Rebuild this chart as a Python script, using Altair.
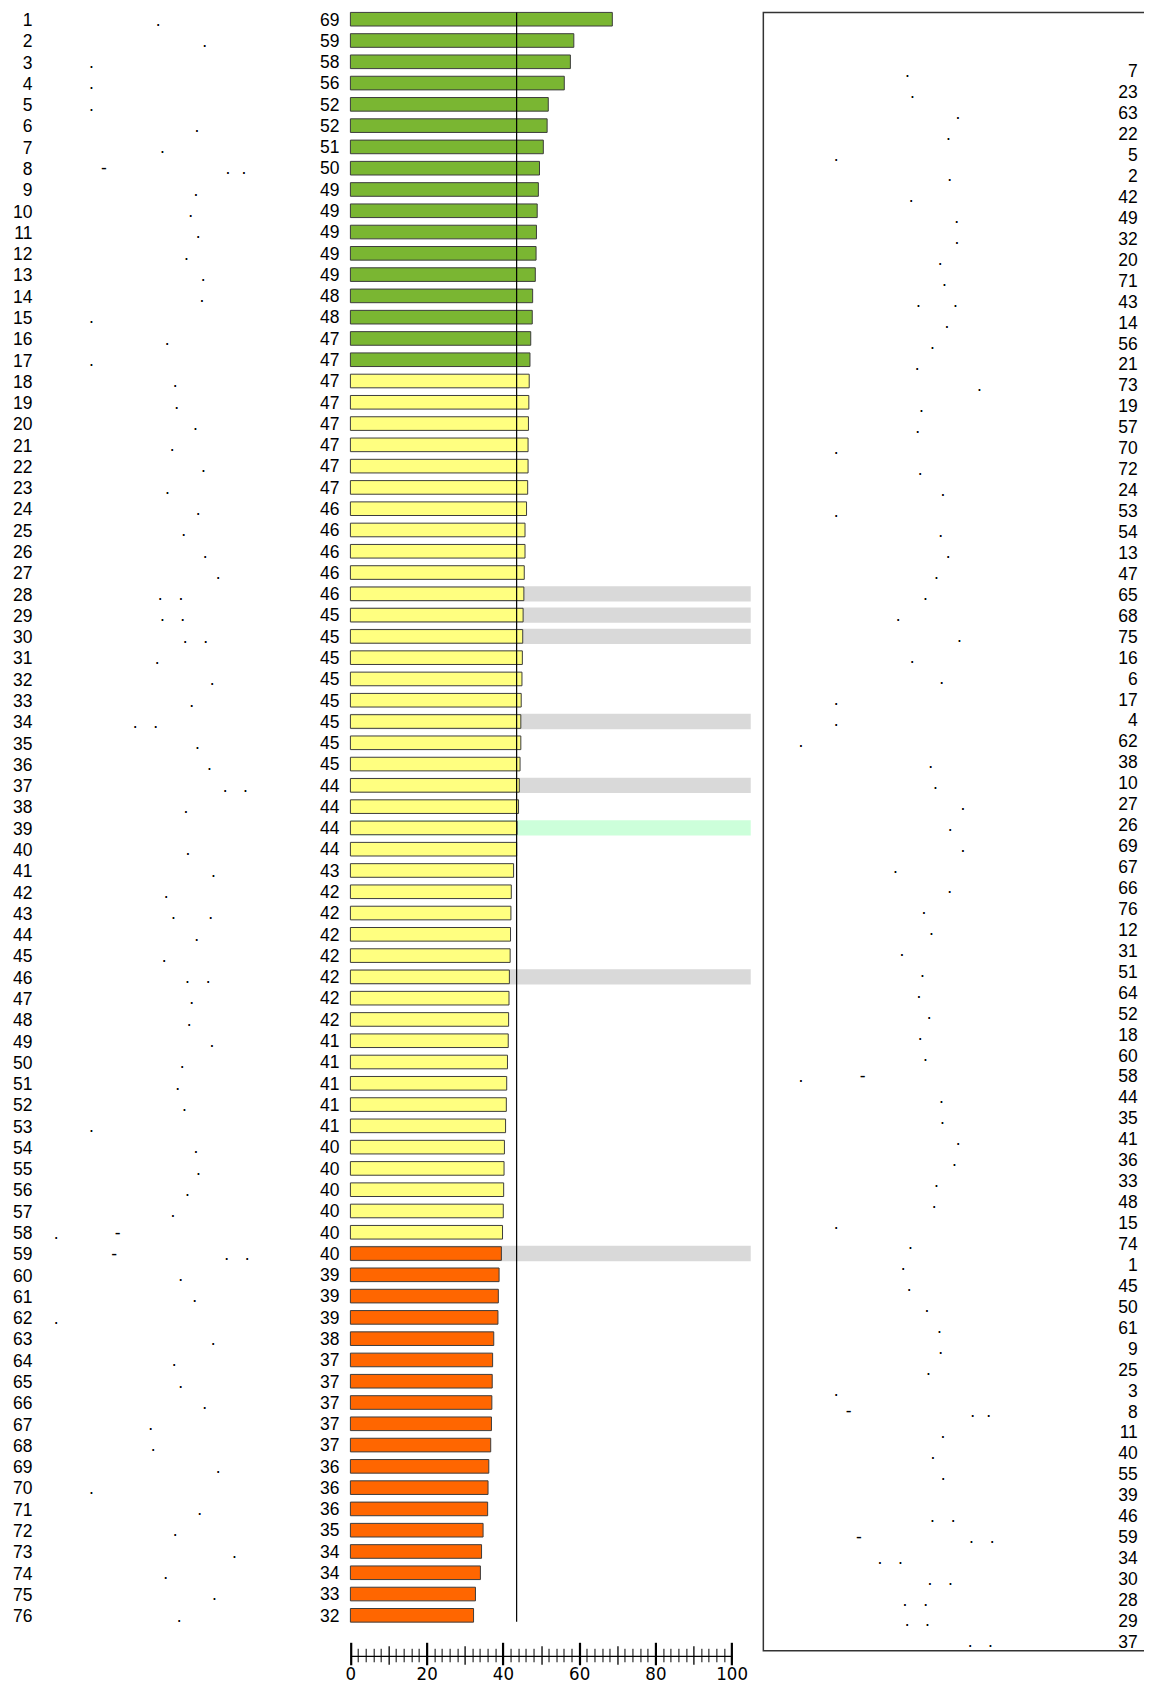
import altair as alt
import pandas as pd

# ---------------- data ----------------
rows = list(range(1, 77))

bar_values = [68.7, 58.6, 57.7, 56.1, 51.9, 51.6, 50.6, 49.6, 49.3, 49.0,
              48.8, 48.7, 48.5, 47.8, 47.7, 47.3, 47.1, 46.9, 46.8, 46.7,
              46.6, 46.6, 46.5, 46.2, 45.8, 45.8, 45.6, 45.5, 45.3, 45.2,
              45.1, 45.0, 44.8, 44.7, 44.7, 44.5, 44.3, 44.1, 43.7, 43.6,
              42.8, 42.2, 42.1, 42.0, 41.9, 41.7, 41.6, 41.5, 41.4, 41.2,
              41.0, 40.9, 40.7, 40.4, 40.3, 40.2, 40.1, 39.9, 39.6, 39.0,
              38.8, 38.7, 37.6, 37.3, 37.2, 37.1, 37.0, 36.8, 36.3, 36.1,
              36.0, 34.8, 34.4, 34.1, 32.8, 32.3]

bar_labels = [69, 59, 58, 56, 52, 52, 51, 50, 49, 49,
              49, 49, 49, 48, 48, 47, 47, 47, 47, 47,
              47, 47, 47, 46, 46, 46, 46, 46, 45, 45,
              45, 45, 45, 45, 45, 45, 44, 44, 44, 44,
              43, 42, 42, 42, 42, 42, 42, 42, 41, 41,
              41, 41, 41, 40, 40, 40, 40, 40, 40, 39,
              39, 39, 38, 37, 37, 37, 37, 37, 36, 36,
              36, 35, 34, 34, 33, 32]

group_names = ["top", "middle", "bottom"]
group_counts = [17, 41, 18]
group_colors = ["#7AB632", "#FFFF80", "#FF6600"]

grey_rows = [28, 29, 30, 34, 37, 46, 59]
green_rows = [39]
band_end = 105
mean_value = 43.6

right_order = [7, 23, 63, 22, 5, 2, 42, 49, 32, 20, 71, 43, 14, 56, 21, 73, 19, 57, 70, 72,
               24, 53, 54, 13, 47, 65, 68, 75, 16, 6, 17, 4, 62, 38, 10, 27, 26, 69, 67, 66,
               76, 12, 31, 51, 64, 52, 18, 60, 58, 44, 35, 41, 36, 33, 48, 15, 74, 1, 45, 50,
               61, 9, 25, 3, 8, 11, 40, 55, 39, 46, 59, 34, 30, 28, 29, 37]

dot_row = [1, 2, 3, 4, 5, 6, 7, 8, 8, 8,
           9, 10, 11, 12, 13, 14, 15, 16, 17, 18,
           19, 20, 21, 22, 23, 24, 25, 26, 27, 28,
           28, 29, 29, 30, 30, 31, 32, 33, 34, 34,
           35, 36, 37, 37, 38, 40, 41, 42, 43, 43,
           44, 45, 46, 46, 47, 48, 49, 50, 51, 52,
           53, 54, 55, 56, 57, 58, 58, 59, 59, 59,
           60, 61, 62, 63, 64, 65, 66, 67, 68, 69,
           70, 71, 72, 73, 74, 75, 76]
dot_pos = [53.4, 75.0, 22.4, 22.4, 22.4, 71.3, 55.4, 28.2, 85.7, 93.1,
           70.9, 68.4, 71.9, 66.5, 74.3, 73.7, 22.4, 57.6, 22.4, 61.3,
           61.9, 70.6, 59.9, 74.4, 57.7, 71.9, 65.2, 75.2, 81.2, 54.3,
           63.9, 55.3, 64.7, 65.9, 75.4, 52.9, 78.4, 68.9, 42.7, 52.2,
           71.6, 77.2, 84.5, 93.9, 66.2, 67.2, 79.0, 57.1, 60.5, 77.7,
           71.2, 56.2, 67.0, 76.6, 68.9, 67.8, 78.3, 64.5, 62.4, 65.5,
           22.4, 70.9, 72.0, 67.0, 60.2, 6.0, 34.6, 32.9, 85.1, 94.7,
           63.8, 70.3, 6.0, 78.9, 60.8, 63.8, 75.0, 49.9, 51.1, 81.2,
           22.4, 72.6, 61.3, 88.8, 56.8, 79.5, 63.1]
dot_glyph = [".", ".", ".", ".", ".", ".", ".", "-", ".", ".",
             ".", ".", ".", ".", ".", ".", ".", ".", ".", ".",
             ".", ".", ".", ".", ".", ".", ".", ".", ".", ".",
             ".", ".", ".", ".", ".", ".", ".", ".", ".", ".",
             ".", ".", ".", ".", ".", ".", ".", ".", ".", ".",
             ".", ".", ".", ".", ".", ".", ".", ".", ".", ".",
             ".", ".", ".", ".", ".", ".", "-", "-", ".", ".",
             ".", ".", ".", ".", ".", ".", ".", ".", ".", ".",
             ".", ".", ".", ".", ".", ".", "."]

axis_major = [0, 20, 40, 60, 80, 100]
axis_medium = [10, 30, 50, 70, 90]
axis_minor = [2, 4, 6, 8, 12, 14, 16, 18, 22, 24, 26, 28, 32, 34, 36, 38,
              42, 44, 46, 48, 52, 54, 56, 58, 62, 64, 66, 68, 72, 74, 76, 78,
              82, 84, 86, 88, 92, 94, 96, 98]

# ---------------- tables ----------------
groups = []
for name, n in zip(group_names, group_counts):
    groups += [name] * n

bars_df = pd.DataFrame({"row": rows, "value": bar_values, "label": bar_labels,
                        "group": groups, "zero": 0})

band_rows = grey_rows + green_rows
band_df = pd.DataFrame({"row": band_rows,
                        "kind": ["grey"] * len(grey_rows) + ["green"] * len(green_rows),
                        "zero": 0, "end": band_end})

mean_df = pd.DataFrame({"mean": [mean_value], "first": [rows[0]], "last": [rows[-1]]})

dots_df = pd.DataFrame({"row": dot_row, "pos": dot_pos, "glyph": dot_glyph})
dots_df["rrow"] = [right_order.index(r) + 1 for r in dot_row]

# ---------------- styling ----------------
LAB_FONT = "Liberation Sans, Arial, sans-serif"
AX_FONT = "Liberation Sans Narrow, DejaVu Sans Condensed, sans-serif"
FS = 17.5

LEFT_W, LEFT_H = 756, 1631.3
RIGHT_W, RIGHT_H = 381, 1639.8

BAR_X = alt.Scale(domain=[0, 100], range=[342.7, 724.3], nice=False, zero=False)
DOT_X = alt.Scale(domain=[0, 100], range=[35.15, 250.9], nice=False, zero=False)
ROW_Y = alt.Scale(domain=[1, 76], range=[6.8, 1604.3], nice=False, zero=False)
RDOT_X = alt.Scale(domain=[0, 100], range=[24.65, 240.4], nice=False, zero=False)
RROW_Y = alt.Scale(domain=[1, 76], range=[59.4, 1631.4], nice=False, zero=False)

# ---------------- left panel ----------------
bands = alt.Chart(band_df).transform_calculate(
    y1="datum.row - 0.36", y2="datum.row + 0.36"
).mark_rect().encode(
    x=alt.X("zero:Q", scale=BAR_X,
            axis=alt.Axis(orient="bottom", values=axis_medium, tickSize=18.5, tickWidth=1.3,
                          tickColor="black", offset=3.5, domain=False, labels=False,
                          grid=False, title=None)),
    x2="end:Q",
    y=alt.Y("y1:Q", scale=ROW_Y, axis=None),
    y2="y2:Q",
    color=alt.Color("kind:N", scale=alt.Scale(domain=["grey", "green"],
                                              range=["#D9D9D9", "#CCFFDA"]), legend=None),
)

bars = alt.Chart(bars_df).transform_calculate(
    y1="datum.row - 0.32", y2="datum.row + 0.32"
).mark_rect(stroke="#3C3C3C", strokeWidth=1).encode(
    x=alt.X("zero:Q", scale=BAR_X,
            axis=alt.Axis(orient="bottom", values=axis_major, tickSize=22.5, tickWidth=2.2,
                          tickColor="black", offset=0, domain=False, labels=True,
                          labelFont=AX_FONT, labelFontSize=18.5, labelPadding=0,
                          labelColor="black", labelFlush=False, labelOverlap=False,
                          grid=False, title=None)),
    x2="value:Q",
    y=alt.Y("y1:Q", scale=ROW_Y,
            axis=alt.Axis(orient="left", values=rows, offset=-24, ticks=False, domain=False,
                          labelPadding=0, labelFont=LAB_FONT, labelFontSize=FS,
                          labelColor="black", labelOffset=1.3, labelOverlap=False,
                          labelFlush=False, minExtent=0, grid=False, title=None)),
    y2="y2:Q",
    fill=alt.Fill("group:N", scale=alt.Scale(domain=group_names, range=group_colors),
                  legend=None),
)

value_labels = alt.Chart(bars_df).mark_text(
    font=LAB_FONT, fontSize=FS, align="right", baseline="middle", dx=-11, dy=1.3,
    color="black"
).encode(
    x=alt.X("zero:Q", scale=BAR_X,
            axis=alt.Axis(orient="bottom", domain=True, domainColor="black",
                          domainWidth=1.3, ticks=False, labels=False, offset=13.5,
                          grid=False, title=None)),
    y=alt.Y("row:Q", scale=ROW_Y, axis=None),
    text="label:Q",
)

mean_rule = alt.Chart(mean_df).transform_calculate(
    y1="datum.first - 0.32", y2="datum.last + 0.3"
).mark_rule(color="black", strokeWidth=1.2).encode(
    x=alt.X("mean:Q", scale=BAR_X,
            axis=alt.Axis(orient="bottom", values=axis_minor, tickSize=13.5, tickWidth=1,
                          tickColor="black", offset=6, domain=False, labels=False,
                          grid=False, title=None)),
    y=alt.Y("y1:Q", scale=ROW_Y, axis=None),
    y2="y2:Q",
)

dots_left = alt.Chart(dots_df).mark_text(
    font=LAB_FONT, fontSize=FS, align="center", baseline="middle", dy=1.3, color="black"
).encode(
    x=alt.X("pos:Q", scale=DOT_X, axis=None),
    y=alt.Y("row:Q", scale=ROW_Y, axis=None),
    text="glyph:N",
)

left = alt.layer(bands, bars, value_labels, mean_rule, dots_left).resolve_scale(
    x="independent", y="independent"
).properties(width=LEFT_W, height=LEFT_H)

# ---------------- right panel ----------------
label_expr = "[" + ",".join(str(v) for v in right_order) + "][datum.value - 1]"

# frame open on the right side (it runs past the page edge in the original)
frame_dash = [RIGHT_W, RIGHT_H, RIGHT_W + RIGHT_H]

right = alt.Chart(dots_df).mark_text(
    font=LAB_FONT, fontSize=FS, align="center", baseline="middle", color="black"
).encode(
    x=alt.X("pos:Q", scale=RDOT_X, axis=None),
    y=alt.Y("rrow:Q", scale=RROW_Y,
            axis=alt.Axis(orient="right", values=rows, labelExpr=label_expr,
                          offset=-(RIGHT_W - 374.3), labelAlign="right", ticks=False,
                          domain=False, labelPadding=0, labelFont=LAB_FONT,
                          labelFontSize=FS, labelColor="black", labelOverlap=False,
                          labelFlush=False, minExtent=0, grid=False, title=None)),
    text="glyph:N",
).properties(width=RIGHT_W, height=RIGHT_H,
             view=alt.ViewBackground(stroke="#333333", strokeWidth=1.5,
                                     strokeDash=frame_dash))

chart = alt.hconcat(left, right, spacing=0, bounds="flush").properties(
    padding={"left": 0, "top": 2.7, "right": 0, "bottom": 0}
).configure_view(strokeWidth=0).configure_axis(grid=False)

chart.save("out.html", embed_options={"renderer": "svg", "actions": False})
